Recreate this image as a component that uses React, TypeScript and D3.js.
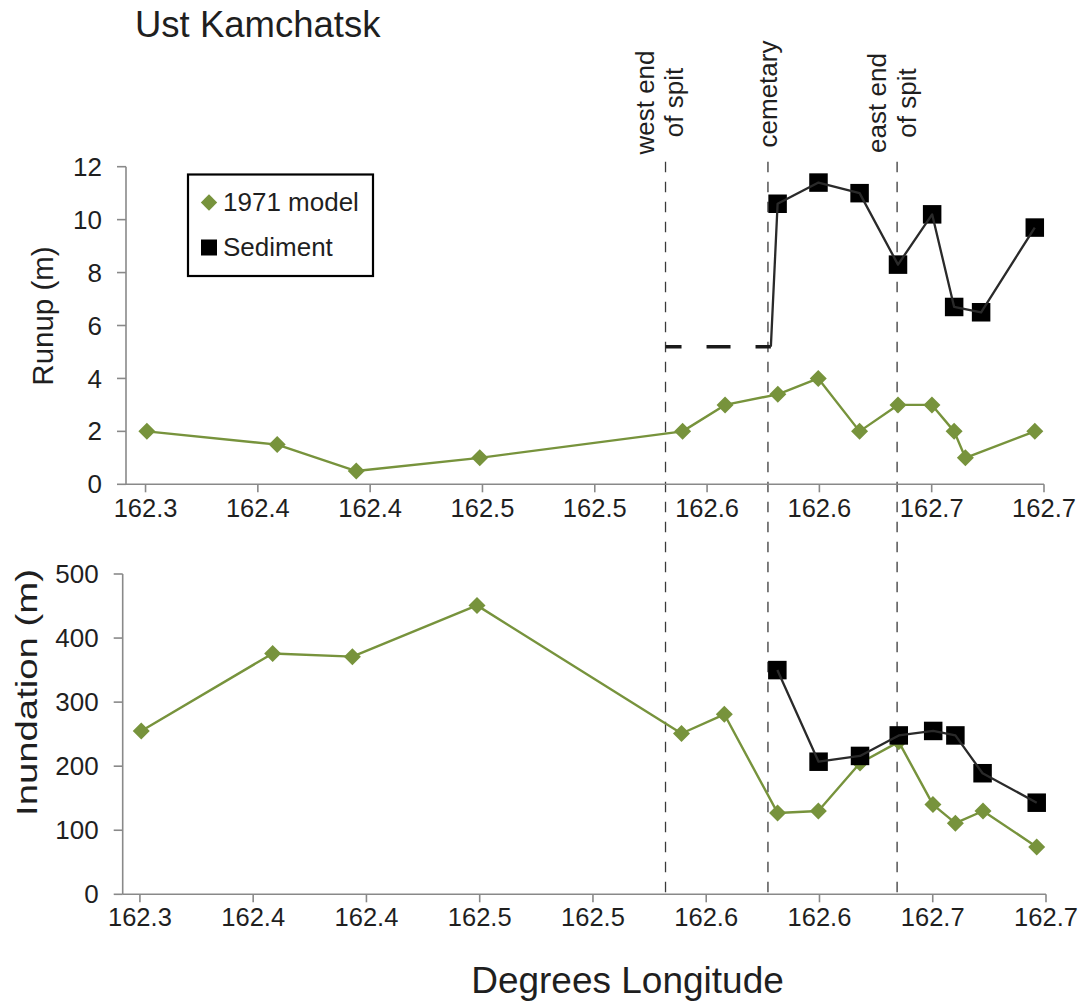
import React from "react";
import * as d3 from "d3";

// Longitude ticks (labels are rounded to one decimal, as on the source axis)
const xTickValues = [162.3, 162.35, 162.4, 162.45, 162.5, 162.55, 162.6, 162.65, 162.7];
const xTickLabels = ["162.3", "162.4", "162.4", "162.5", "162.5", "162.6", "162.6", "162.7", "162.7"];

const runupTicks = [0, 2, 4, 6, 8, 10, 12];
const inundationTicks = [0, 100, 200, 300, 400, 500];

// 1971 model runup (m)
const runupModelLon = [162.3006, 162.3586, 162.3938, 162.4488, 162.5391, 162.558, 162.5815, 162.5995, 162.6179, 162.635, 162.6501, 162.66, 162.665, 162.6959];
const runupModel = [2, 1.5, 0.5, 1, 2, 3, 3.4, 4, 2, 3, 3, 2, 1, 2];

// Sediment runup (m)
const sedimentLon = [162.5814, 162.5996, 162.6179, 162.635, 162.6502, 162.66, 162.672, 162.6959];
const runupSediment = [10.6, 11.4, 11.0, 8.3, 10.2, 6.7, 6.5, 9.7];

// Minimum sediment runup between the west end of the spit and the cemetery
const runupGapLon = [162.5315, 162.5784];
const runupGapValue = 5.2;

// 1971 model inundation (m)
const inundationModelLon = [162.3006, 162.3586, 162.3938, 162.4488, 162.5391, 162.558, 162.5815, 162.5995, 162.6179, 162.635, 162.6501, 162.66, 162.6722, 162.6959];
const inundationModel = [255, 376, 371, 451, 251, 281, 127, 130, 205, 238, 140, 111, 130, 74];

// Sediment inundation (m)
const inundationSediment = [350, 207, 216, 248, 255, 248, 189, 143];

// Landmarks along the coast
const siteLon = [162.5315, 162.5771, 162.6346];
const siteLabels = [["west end", "of spit"], ["cemetary"], ["east end", "of spit"]];

const FONT = "'Liberation Sans', Arial, Helvetica, sans-serif";
const GREEN = "#77933c";
const AXIS = "#898989";
const TEXT = "#1f1f1f";

function diamond(x: number, y: number, h: number) {
  return `M${x},${y - h}L${x + h},${y}L${x},${y + h}L${x - h},${y}Z`;
}

type Box = { left: number; right: number; top: number; bottom: number };

function Axes({ box, x, y, yTicks, labelY }: { box: Box; x: d3.ScaleLinear<number, number>; y: d3.ScaleLinear<number, number>; yTicks: number[]; labelY: number }) {
  return (
    <g>
      <line x1={box.left} x2={box.left} y1={box.top} y2={box.bottom} stroke={AXIS} strokeWidth={1.6} />
      <line x1={box.left} x2={box.right} y1={box.bottom} y2={box.bottom} stroke={AXIS} strokeWidth={1.6} />
      {yTicks.map((t) => (
        <g key={t}>
          <line x1={box.left - 9} x2={box.left} y1={y(t)} y2={y(t)} stroke={AXIS} strokeWidth={1.6} />
          <text x={box.left - 24} y={y(t)} dy="0.35em" textAnchor="end" fontSize={26} fill={TEXT} fontFamily={FONT}>
            {t}
          </text>
        </g>
      ))}
      {xTickValues.map((t, i) => (
        <g key={i}>
          <line x1={x(t)} x2={x(t)} y1={box.bottom} y2={box.bottom + 8} stroke={AXIS} strokeWidth={1.6} />
          <text x={x(t)} y={labelY} textAnchor="middle" fontSize={25.5} fill={TEXT} fontFamily={FONT}>
            {xTickLabels[i]}
          </text>
        </g>
      ))}
    </g>
  );
}

function ModelSeries({ lon, vals, x, y }: { lon: number[]; vals: number[]; x: any; y: any }) {
  const pts: [number, number][] = lon.map((l, i) => [x(l), y(vals[i])]);
  const line = d3.line()(pts) || "";
  return (
    <g>
      <path d={line} fill="none" stroke={GREEN} strokeWidth={2.4} strokeLinejoin="round" />
      {pts.map((p, i) => (
        <path key={i} d={diamond(p[0], p[1], 8.5)} fill={GREEN} />
      ))}
    </g>
  );
}

function SedimentSeries({ lon, vals, x, y, lead }: { lon: number[]; vals: number[]; x: any; y: any; lead?: [number, number] }) {
  const pts: [number, number][] = lon.map((l, i) => [x(l), y(vals[i])]);
  const linePts = lead ? [[x(lead[0]), y(lead[1])] as [number, number], ...pts] : pts;
  const line = d3.line()(linePts) || "";
  const s = 18.5;
  return (
    <g>
      {pts.map((p, i) => (
        <rect key={i} x={p[0] - s / 2} y={p[1] - s / 2} width={s} height={s} fill="#000" />
      ))}
      <path d={line} fill="none" stroke="#2a2a2a" strokeWidth={2.3} strokeLinejoin="round" />
    </g>
  );
}

export default function App() {
  const topBox: Box = { left: 126, right: 1044, top: 166.7, bottom: 484.3 };
  const botBox: Box = { left: 122.7, right: 1046, top: 574, bottom: 894.3 };

  const xTop = d3.scaleLinear().domain([162.2913, 162.7]).range([topBox.left, topBox.right]);
  const yTop = d3.scaleLinear().domain([0, 12]).range([topBox.bottom, topBox.top]);
  const xBot = d3.scaleLinear().domain([162.2924, 162.7]).range([botBox.left, botBox.right]);
  const yBot = d3.scaleLinear().domain([0, 500]).range([botBox.bottom, botBox.top]);

  // Offsets of each label line's baseline from its landmark line (rotated text)
  const labelOffsets = [[-12, 17], [9], [-11, 19]];
  const labelCenters = [102.5, 94, 103];

  return (
    <svg
      width={1082}
      height={1004}
      style={{ position: "absolute", left: 0, top: 0, background: "#fff" }}
      fontFamily={FONT}
    >
      <rect width={1082} height={1004} fill="#fff" />

      <text x={135} y={37.3} fontSize={36.5} fill={TEXT}>
        Ust Kamchatsk
      </text>

      {/* landmark lines spanning both panels */}
      {siteLon.map((l, i) => (
        <line
          key={i}
          x1={xTop(l)}
          x2={xTop(l)}
          y1={161.7}
          y2={botBox.bottom}
          stroke="#3a3a3a"
          strokeWidth={1.3}
          strokeDasharray="10.5,9.5"
        />
      ))}
      {siteLabels.map((lines, i) => (
        <g key={i} transform={`translate(${xTop(siteLon[i])},${labelCenters[i]}) rotate(-90)`}>
          {lines.map((t, j) => (
            <text key={j} x={0} y={labelOffsets[i][j]} textAnchor="middle" fontSize={26} fill={TEXT}>
              {t}
            </text>
          ))}
        </g>
      ))}

      {/* Runup panel */}
      <Axes box={topBox} x={xTop} y={yTop} yTicks={runupTicks} labelY={517} />
      <text transform={`translate(53.3,316) rotate(-90)`} textAnchor="middle" fontSize={29.5} fill={TEXT}>
        Runup (m)
      </text>
      <ModelSeries lon={runupModelLon} vals={runupModel} x={xTop} y={yTop} />
      <line
        x1={xTop(runupGapLon[0])}
        x2={xTop(runupGapLon[1])}
        y1={yTop(runupGapValue)}
        y2={yTop(runupGapValue)}
        stroke="#1a1a1a"
        strokeWidth={3.5}
        strokeDasharray="24,25"
        strokeDashoffset={8}
      />
      <SedimentSeries lon={sedimentLon} vals={runupSediment} x={xTop} y={yTop} lead={[runupGapLon[1], runupGapValue]} />

      {/* legend */}
      <rect x={188} y={174.5} width={185} height={101.5} fill="#fff" stroke="#000" strokeWidth={2.2} />
      <path d={diamond(209, 202.5, 8.2)} fill={GREEN} />
      <text x={223} y={210.5} fontSize={26} fill={TEXT}>
        1971 model
      </text>
      <rect x={201} y={239.5} width={16} height={16} fill="#000" />
      <text x={223} y={255.5} fontSize={26} fill={TEXT}>
        Sediment
      </text>

      {/* Inundation panel */}
      <Axes box={botBox} x={xBot} y={yBot} yTicks={inundationTicks} labelY={926} />
      <text
        transform={`translate(36.7,692.5) rotate(-90)`}
        textAnchor="middle"
        fontSize={29}
        fill={TEXT}
        textLength={247}
        lengthAdjust="spacingAndGlyphs"
      >
        Inundation (m)
      </text>
      <ModelSeries lon={inundationModelLon} vals={inundationModel} x={xBot} y={yBot} />
      <SedimentSeries lon={sedimentLon} vals={inundationSediment} x={xBot} y={yBot} />

      <text x={627.5} y={993} textAnchor="middle" fontSize={37} fill={TEXT}>
        Degrees Longitude
      </text>
    </svg>
  );
}
